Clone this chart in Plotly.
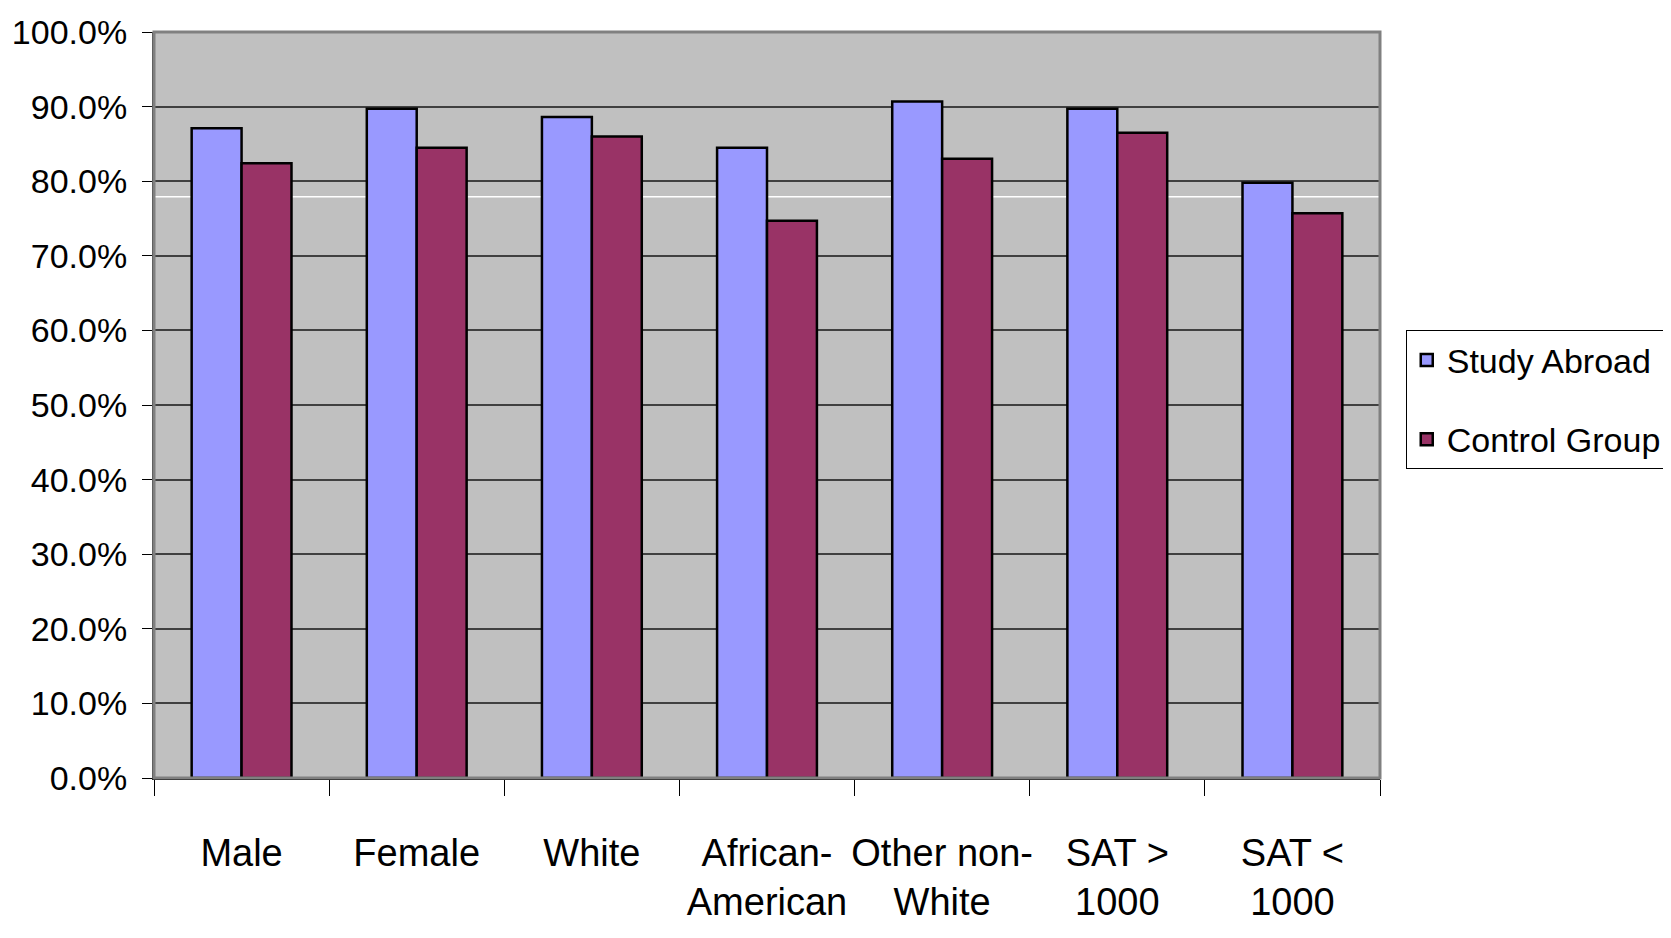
import plotly.graph_objects as go

categories = ["Male", "Female", "White", "African-<br>American", "Other non-<br>White", "SAT ><br>1000", "SAT <<br>1000"]
study_abroad = [87.1, 89.7, 88.6, 84.5, 90.7, 89.7, 79.8]
control_group = [82.4, 84.5, 86.0, 74.7, 83.0, 86.5, 75.7]
y_ticks = [0, 10, 20, 30, 40, 50, 60, 70, 80, 90, 100]
y_tick_labels = [f"{v:.1f}%" for v in y_ticks]
white_line_value = 77.9

FONT = "Liberation Sans Narrow, Arial Narrow, Liberation Sans, Arial, sans-serif"

fig = go.Figure()
fig.add_trace(go.Bar(
    x=categories, y=study_abroad, name="Study Abroad",
    marker=dict(color="#9999FF", line=dict(color="black", width=2.5)),
    legendgroup="a",
))
fig.add_trace(go.Bar(
    x=categories, y=control_group, name="Control Group",
    marker=dict(color="#993366", line=dict(color="black", width=2.5)),
    legendgroup="b",
))

fig.add_shape(type="line", xref="paper", yref="y", x0=0, x1=1,
              y0=white_line_value, y1=white_line_value,
              line=dict(color="white", width=1.5), layer="below")
fig.add_shape(type="rect", xref="paper", yref="paper", x0=0, x1=1, y0=0, y1=1,
              line=dict(color="#808080", width=3), layer="above")

fig.update_layout(
    width=1671, height=938,
    margin=dict(l=146, r=297, t=24, b=168),
    paper_bgcolor="white",
    plot_bgcolor="#C0C0C0",
    barmode="group",
    bargap=0.43,
    bargroupgap=0,
    font=dict(family=FONT, color="black", size=38),
    showlegend=True,
    legend=dict(
        x=1.021, y=0.600, xanchor="left", yanchor="top",
        bordercolor="black", borderwidth=1, bgcolor="white",
        font=dict(family=FONT, size=34, color="black"),
        traceorder="grouped", tracegroupgap=32,
    ),
    xaxis=dict(
        tickson="boundaries", ticks="outside", ticklen=16, tickcolor="black",
        showline=True, linecolor="black", linewidth=2,
        showgrid=False, ticklabelstandoff=40, tickangle=0, automargin=False,
        tickfont=dict(family=FONT, size=38, color="black"),
    ),
    yaxis=dict(
        range=[0, 100], tickvals=y_ticks, ticktext=y_tick_labels,
        ticks="outside", ticklen=10, tickcolor="black",
        showline=True, linecolor="#404040", linewidth=2,
        showgrid=True, gridcolor="#404040", gridwidth=1.5,
        zeroline=False, ticklabelstandoff=8, automargin=False,
        tickfont=dict(family=FONT, size=34, color="black"),
    ),
)

fig.write_html("out.html")
